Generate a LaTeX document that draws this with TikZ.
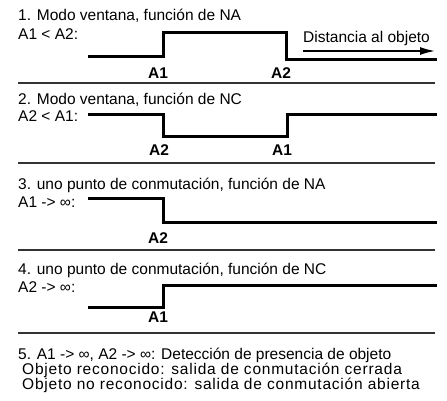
\documentclass[tikz,border=0pt]{standalone}
\usepackage{fontspec}
\setmainfont{Liberation Sans}
\usetikzlibrary{arrows.meta}

\tikzset{
  txt/.style={anchor=base west, inner sep=0pt, font=\fontsize{15.5}{18}\selectfont},
  widetxt/.style={txt, font=\fontsize{15.5}{18}\selectfont\addfontfeature{LetterSpace=5}},
  lbl/.style={anchor=base, inner sep=0pt, font=\fontsize{15.5}{18}\selectfont\bfseries},
  wave/.style={line width=3pt},
  sep/.style={line width=1.2pt, black!80},
}

\begin{document}
\begin{tikzpicture}[x=1pt,y=-1pt]
  \useasboundingbox (0,0) rectangle (447,401);
  % separators
  \foreach \y in {83,163,250,333} {
    \draw[sep] (18,\y) -- (435,\y);
  }
  % 1. window mode, NO
  \node[txt] (t1) at (18,21) {1. Modo ventana, función de NA};
  \node[txt] (c1) at (18,40) {A1 < A2:};
  \draw[wave] (88,57) -- (163,57) -- (163,33) -- (286,33) -- (286,60) -- (437,60);
  \node[lbl] (a1p) at (158,79) {A1};
  \node[lbl] (a2p) at (281,79) {A2};
  \node[txt] (dist) at (303,43) {Distancia al objeto};
  \coordinate (ds) at (303,51);
  \coordinate (de) at (435,51);
  \draw[line width=1.5pt, -{Latex[length=15pt,width=8pt]}] (ds) -- (de);
  % 2. window mode, NC
  \node[txt] (t2) at (18,105) {2. Modo ventana, función de NC};
  \node[txt] (c2) at (18,122) {A2 < A1:};
  \draw[wave] (88,115) -- (163,115) -- (163,137) -- (287,137) -- (287,115) -- (437,115);
  \node[lbl] (a2q) at (159,155) {A2};
  \node[lbl] (a1q) at (282,155) {A1};
  % 3. one switching point, NO
  \node[txt] (t3) at (18,189) {3. uno punto de conmutación, función de NA};
  \node[txt] (c3) at (18,207) {A1 -> ∞:};
  \draw[wave] (88,198) -- (163,198) -- (163,222) -- (437,222);
  \node[lbl] (a2r) at (158,243) {A2};
  % 4. one switching point, NC
  \node[txt] (t4) at (18,274) {4. uno punto de conmutación, función de NC};
  \node[txt] (c4) at (18,292) {A2 -> ∞:};
  \draw[wave] (88,307) -- (163,307) -- (163,285) -- (437,285);
  \node[lbl] (a1s) at (158,322) {A1};
  % 5. presence detection
  \node[txt] (t5) at (18,359) {5. A1 -> ∞, A2 -> ∞: Detección de presencia de objeto};
  \node[widetxt] (r5) at (22,374) {Objeto reconocido: salida de conmutación cerrada};
  \node[widetxt] (n5) at (22,389) {Objeto no reconocido: salida de conmutación abierta};
\end{tikzpicture}
\end{document}
